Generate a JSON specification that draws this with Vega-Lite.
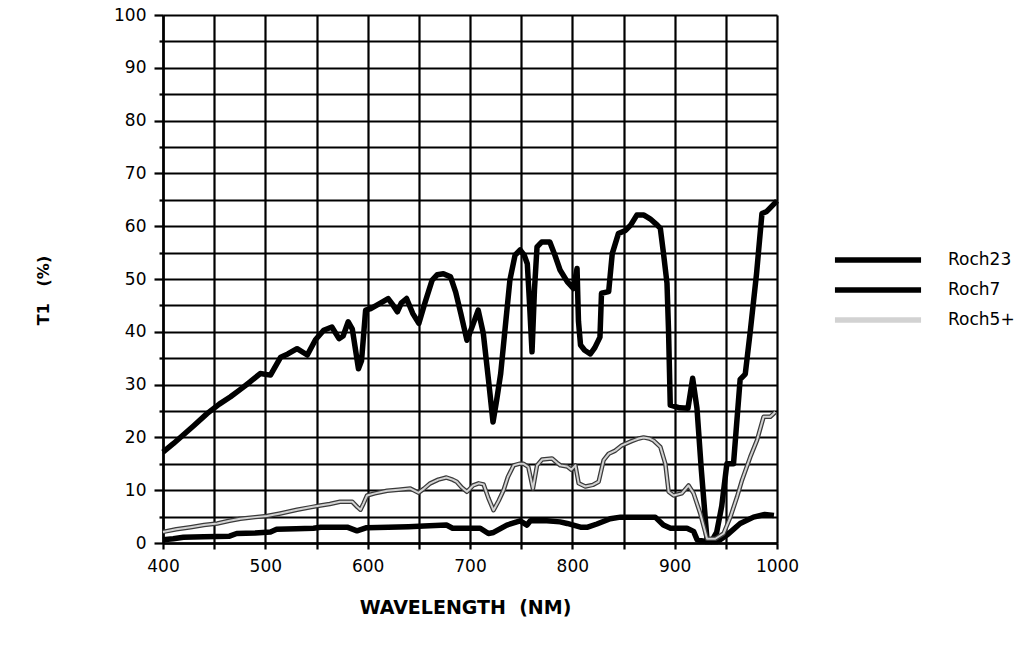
{
  "$schema": "https://vega.github.io/schema/vega-lite/v6.json",
  "width": 614,
  "height": 528,
  "autosize": {"type": "none"},
  "padding": {"left": 163, "top": 15, "right": 250, "bottom": 109},
  "background": "white",
  "config": {"view": {"stroke": null}, "font": "DejaVu Sans"},
  "datasets": {
    "curves": [
      {"series": "Roch7", "wl": 400, "t": 17.2},
      {"series": "Roch7", "wl": 410, "t": 18.8},
      {"series": "Roch7", "wl": 420, "t": 20.5},
      {"series": "Roch7", "wl": 430, "t": 22.2},
      {"series": "Roch7", "wl": 443, "t": 24.5},
      {"series": "Roch7", "wl": 455, "t": 26.3},
      {"series": "Roch7", "wl": 466, "t": 27.7},
      {"series": "Roch7", "wl": 475, "t": 29.0},
      {"series": "Roch7", "wl": 485, "t": 30.5},
      {"series": "Roch7", "wl": 495, "t": 32.1},
      {"series": "Roch7", "wl": 505, "t": 31.8},
      {"series": "Roch7", "wl": 515, "t": 35.2},
      {"series": "Roch7", "wl": 522, "t": 35.8},
      {"series": "Roch7", "wl": 531, "t": 36.8},
      {"series": "Roch7", "wl": 541, "t": 35.6},
      {"series": "Roch7", "wl": 549, "t": 38.5},
      {"series": "Roch7", "wl": 557, "t": 40.3},
      {"series": "Roch7", "wl": 565, "t": 40.9},
      {"series": "Roch7", "wl": 572, "t": 38.7},
      {"series": "Roch7", "wl": 576, "t": 39.2},
      {"series": "Roch7", "wl": 581, "t": 41.9},
      {"series": "Roch7", "wl": 585, "t": 40.5},
      {"series": "Roch7", "wl": 591, "t": 33.0},
      {"series": "Roch7", "wl": 594, "t": 34.5},
      {"series": "Roch7", "wl": 598, "t": 44.1},
      {"series": "Roch7", "wl": 603, "t": 44.4},
      {"series": "Roch7", "wl": 612, "t": 45.4},
      {"series": "Roch7", "wl": 620, "t": 46.3},
      {"series": "Roch7", "wl": 625, "t": 45.0},
      {"series": "Roch7", "wl": 629, "t": 43.8},
      {"series": "Roch7", "wl": 633, "t": 45.5},
      {"series": "Roch7", "wl": 638, "t": 46.3},
      {"series": "Roch7", "wl": 644, "t": 43.5},
      {"series": "Roch7", "wl": 650, "t": 41.6},
      {"series": "Roch7", "wl": 656, "t": 45.5},
      {"series": "Roch7", "wl": 663, "t": 49.8},
      {"series": "Roch7", "wl": 668, "t": 50.8},
      {"series": "Roch7", "wl": 674, "t": 51.0},
      {"series": "Roch7", "wl": 681, "t": 50.4},
      {"series": "Roch7", "wl": 686, "t": 47.5},
      {"series": "Roch7", "wl": 691, "t": 43.5},
      {"series": "Roch7", "wl": 697, "t": 38.4},
      {"series": "Roch7", "wl": 702, "t": 40.9},
      {"series": "Roch7", "wl": 708, "t": 44.1},
      {"series": "Roch7", "wl": 713, "t": 39.7},
      {"series": "Roch7", "wl": 718, "t": 31.0},
      {"series": "Roch7", "wl": 722.5, "t": 22.9},
      {"series": "Roch7", "wl": 726, "t": 27.0},
      {"series": "Roch7", "wl": 730, "t": 32.1},
      {"series": "Roch7", "wl": 735, "t": 42.0},
      {"series": "Roch7", "wl": 739, "t": 49.8},
      {"series": "Roch7", "wl": 744, "t": 54.5},
      {"series": "Roch7", "wl": 749, "t": 55.5},
      {"series": "Roch7", "wl": 753, "t": 54.5},
      {"series": "Roch7", "wl": 756, "t": 52.9},
      {"series": "Roch7", "wl": 758, "t": 46.0},
      {"series": "Roch7", "wl": 760.6, "t": 36.2},
      {"series": "Roch7", "wl": 763, "t": 48.0},
      {"series": "Roch7", "wl": 765.5, "t": 56.1},
      {"series": "Roch7", "wl": 770, "t": 57.0},
      {"series": "Roch7", "wl": 778, "t": 57.0},
      {"series": "Roch7", "wl": 783, "t": 54.5},
      {"series": "Roch7", "wl": 788, "t": 51.7},
      {"series": "Roch7", "wl": 795, "t": 49.5},
      {"series": "Roch7", "wl": 801, "t": 48.2},
      {"series": "Roch7", "wl": 804.6, "t": 52.0},
      {"series": "Roch7", "wl": 806, "t": 42.0},
      {"series": "Roch7", "wl": 808, "t": 37.5},
      {"series": "Roch7", "wl": 812, "t": 36.5},
      {"series": "Roch7", "wl": 817.6, "t": 35.8},
      {"series": "Roch7", "wl": 822, "t": 37.0},
      {"series": "Roch7", "wl": 827, "t": 39.0},
      {"series": "Roch7", "wl": 828.5, "t": 47.3},
      {"series": "Roch7", "wl": 835.5, "t": 47.6},
      {"series": "Roch7", "wl": 839, "t": 54.8},
      {"series": "Roch7", "wl": 845, "t": 58.6},
      {"series": "Roch7", "wl": 852, "t": 59.2},
      {"series": "Roch7", "wl": 857, "t": 60.2},
      {"series": "Roch7", "wl": 863, "t": 62.1},
      {"series": "Roch7", "wl": 870, "t": 62.1},
      {"series": "Roch7", "wl": 876, "t": 61.4},
      {"series": "Roch7", "wl": 883, "t": 60.2},
      {"series": "Roch7", "wl": 886, "t": 59.6},
      {"series": "Roch7", "wl": 889, "t": 55.0},
      {"series": "Roch7", "wl": 892.5, "t": 49.2},
      {"series": "Roch7", "wl": 894, "t": 40.3},
      {"series": "Roch7", "wl": 895.7, "t": 26.1},
      {"series": "Roch7", "wl": 905, "t": 25.6},
      {"series": "Roch7", "wl": 913, "t": 25.5},
      {"series": "Roch7", "wl": 917.6, "t": 31.2},
      {"series": "Roch7", "wl": 921.8, "t": 25.5},
      {"series": "Roch7", "wl": 926, "t": 14.0},
      {"series": "Roch7", "wl": 931.6, "t": 0.6},
      {"series": "Roch7", "wl": 936, "t": 0.3},
      {"series": "Roch7", "wl": 941, "t": 2.0},
      {"series": "Roch7", "wl": 946, "t": 7.0},
      {"series": "Roch7", "wl": 951, "t": 15.0},
      {"series": "Roch7", "wl": 957.5, "t": 15.0},
      {"series": "Roch7", "wl": 964, "t": 31.0},
      {"series": "Roch7", "wl": 969, "t": 32.0},
      {"series": "Roch7", "wl": 974, "t": 40.3},
      {"series": "Roch7", "wl": 980, "t": 51.0},
      {"series": "Roch7", "wl": 985.3, "t": 62.4},
      {"series": "Roch7", "wl": 990, "t": 62.8},
      {"series": "Roch7", "wl": 1000, "t": 64.8},

      {"series": "Roch5+", "wl": 400, "t": 2.1},
      {"series": "Roch5+", "wl": 413, "t": 2.6},
      {"series": "Roch5+", "wl": 427, "t": 3.0},
      {"series": "Roch5+", "wl": 440, "t": 3.4},
      {"series": "Roch5+", "wl": 453, "t": 3.7},
      {"series": "Roch5+", "wl": 465, "t": 4.2},
      {"series": "Roch5+", "wl": 475.5, "t": 4.6},
      {"series": "Roch5+", "wl": 490, "t": 4.9},
      {"series": "Roch5+", "wl": 501.6, "t": 5.1},
      {"series": "Roch5+", "wl": 514.6, "t": 5.6},
      {"series": "Roch5+", "wl": 531, "t": 6.3},
      {"series": "Roch5+", "wl": 545, "t": 6.8},
      {"series": "Roch5+", "wl": 553.7, "t": 7.1},
      {"series": "Roch5+", "wl": 563, "t": 7.4},
      {"series": "Roch5+", "wl": 573, "t": 7.8},
      {"series": "Roch5+", "wl": 585, "t": 7.8},
      {"series": "Roch5+", "wl": 590, "t": 6.8},
      {"series": "Roch5+", "wl": 593, "t": 6.3},
      {"series": "Roch5+", "wl": 596, "t": 7.5},
      {"series": "Roch5+", "wl": 599.4, "t": 9.0},
      {"series": "Roch5+", "wl": 607, "t": 9.4},
      {"series": "Roch5+", "wl": 619, "t": 9.9},
      {"series": "Roch5+", "wl": 630, "t": 10.1},
      {"series": "Roch5+", "wl": 641.7, "t": 10.3},
      {"series": "Roch5+", "wl": 649.8, "t": 9.5},
      {"series": "Roch5+", "wl": 655, "t": 10.3},
      {"series": "Roch5+", "wl": 661.2, "t": 11.3},
      {"series": "Roch5+", "wl": 669, "t": 12.0},
      {"series": "Roch5+", "wl": 677, "t": 12.4},
      {"series": "Roch5+", "wl": 683, "t": 12.0},
      {"series": "Roch5+", "wl": 687, "t": 11.6},
      {"series": "Roch5+", "wl": 692, "t": 10.5},
      {"series": "Roch5+", "wl": 697, "t": 9.7},
      {"series": "Roch5+", "wl": 703, "t": 10.9},
      {"series": "Roch5+", "wl": 708.4, "t": 11.3},
      {"series": "Roch5+", "wl": 713.3, "t": 11.1},
      {"series": "Roch5+", "wl": 718, "t": 8.5},
      {"series": "Roch5+", "wl": 723, "t": 6.2},
      {"series": "Roch5+", "wl": 728, "t": 8.0},
      {"series": "Roch5+", "wl": 732.8, "t": 10.0},
      {"series": "Roch5+", "wl": 737, "t": 12.5},
      {"series": "Roch5+", "wl": 742.6, "t": 14.7},
      {"series": "Roch5+", "wl": 748, "t": 15.0},
      {"series": "Roch5+", "wl": 752.4, "t": 15.0},
      {"series": "Roch5+", "wl": 757, "t": 14.4},
      {"series": "Roch5+", "wl": 761.5, "t": 10.3},
      {"series": "Roch5+", "wl": 765.5, "t": 14.7},
      {"series": "Roch5+", "wl": 770.4, "t": 15.8},
      {"series": "Roch5+", "wl": 780.2, "t": 16.0},
      {"series": "Roch5+", "wl": 785, "t": 15.2},
      {"series": "Roch5+", "wl": 788.3, "t": 14.7},
      {"series": "Roch5+", "wl": 795, "t": 14.5},
      {"series": "Roch5+", "wl": 799, "t": 13.9},
      {"series": "Roch5+", "wl": 803, "t": 14.7},
      {"series": "Roch5+", "wl": 806.2, "t": 11.3},
      {"series": "Roch5+", "wl": 812.7, "t": 10.7},
      {"series": "Roch5+", "wl": 820, "t": 11.0},
      {"series": "Roch5+", "wl": 825.7, "t": 11.6},
      {"series": "Roch5+", "wl": 830.6, "t": 15.7},
      {"series": "Roch5+", "wl": 835.5, "t": 16.9},
      {"series": "Roch5+", "wl": 842, "t": 17.5},
      {"series": "Roch5+", "wl": 848.5, "t": 18.5},
      {"series": "Roch5+", "wl": 858, "t": 19.3},
      {"series": "Roch5+", "wl": 865, "t": 19.8},
      {"series": "Roch5+", "wl": 869.6, "t": 20.0},
      {"series": "Roch5+", "wl": 875, "t": 19.8},
      {"series": "Roch5+", "wl": 879.4, "t": 19.4},
      {"series": "Roch5+", "wl": 886, "t": 18.2},
      {"series": "Roch5+", "wl": 890.9, "t": 15.0},
      {"series": "Roch5+", "wl": 894.1, "t": 9.7},
      {"series": "Roch5+", "wl": 899, "t": 9.0},
      {"series": "Roch5+", "wl": 907, "t": 9.4},
      {"series": "Roch5+", "wl": 913.6, "t": 10.9},
      {"series": "Roch5+", "wl": 918.5, "t": 9.4},
      {"series": "Roch5+", "wl": 925, "t": 5.6},
      {"series": "Roch5+", "wl": 931.6, "t": 0.8},
      {"series": "Roch5+", "wl": 939.7, "t": 0.8},
      {"series": "Roch5+", "wl": 947.8, "t": 1.8},
      {"series": "Roch5+", "wl": 954.4, "t": 4.9},
      {"series": "Roch5+", "wl": 960.9, "t": 8.7},
      {"series": "Roch5+", "wl": 965.8, "t": 11.9},
      {"series": "Roch5+", "wl": 973.9, "t": 16.3},
      {"series": "Roch5+", "wl": 980.5, "t": 19.5},
      {"series": "Roch5+", "wl": 986.9, "t": 23.9},
      {"series": "Roch5+", "wl": 993.4, "t": 23.9},
      {"series": "Roch5+", "wl": 998.4, "t": 24.8},

      {"series": "Roch23", "wl": 400, "t": 0.6},
      {"series": "Roch23", "wl": 410, "t": 0.8},
      {"series": "Roch23", "wl": 420, "t": 1.1},
      {"series": "Roch23", "wl": 440, "t": 1.2},
      {"series": "Roch23", "wl": 465, "t": 1.3},
      {"series": "Roch23", "wl": 472, "t": 1.8},
      {"series": "Roch23", "wl": 490, "t": 1.9},
      {"series": "Roch23", "wl": 505, "t": 2.1},
      {"series": "Roch23", "wl": 511, "t": 2.6},
      {"series": "Roch23", "wl": 530, "t": 2.7},
      {"series": "Roch23", "wl": 547, "t": 2.8},
      {"series": "Roch23", "wl": 554, "t": 3.0},
      {"series": "Roch23", "wl": 580, "t": 3.0},
      {"series": "Roch23", "wl": 589.6, "t": 2.3},
      {"series": "Roch23", "wl": 599, "t": 2.9},
      {"series": "Roch23", "wl": 620, "t": 3.0},
      {"series": "Roch23", "wl": 640, "t": 3.1},
      {"series": "Roch23", "wl": 655, "t": 3.2},
      {"series": "Roch23", "wl": 677, "t": 3.4},
      {"series": "Roch23", "wl": 683, "t": 2.8},
      {"series": "Roch23", "wl": 710, "t": 2.8},
      {"series": "Roch23", "wl": 718, "t": 1.8},
      {"series": "Roch23", "wl": 723, "t": 2.0},
      {"series": "Roch23", "wl": 736, "t": 3.4},
      {"series": "Roch23", "wl": 749, "t": 4.2},
      {"series": "Roch23", "wl": 755.7, "t": 3.4},
      {"series": "Roch23", "wl": 759, "t": 4.2},
      {"series": "Roch23", "wl": 775, "t": 4.2},
      {"series": "Roch23", "wl": 788, "t": 4.0},
      {"series": "Roch23", "wl": 795, "t": 3.7},
      {"series": "Roch23", "wl": 808, "t": 3.0},
      {"series": "Roch23", "wl": 815, "t": 3.0},
      {"series": "Roch23", "wl": 824, "t": 3.6},
      {"series": "Roch23", "wl": 837, "t": 4.6},
      {"series": "Roch23", "wl": 847, "t": 4.9},
      {"series": "Roch23", "wl": 881, "t": 4.9},
      {"series": "Roch23", "wl": 889, "t": 3.4},
      {"series": "Roch23", "wl": 896, "t": 2.8},
      {"series": "Roch23", "wl": 912, "t": 2.8},
      {"series": "Roch23", "wl": 918.5, "t": 2.2},
      {"series": "Roch23", "wl": 922, "t": 0.6},
      {"series": "Roch23", "wl": 930, "t": 0.3},
      {"series": "Roch23", "wl": 942, "t": 0.3},
      {"series": "Roch23", "wl": 951, "t": 1.5},
      {"series": "Roch23", "wl": 964, "t": 3.7},
      {"series": "Roch23", "wl": 977, "t": 4.9},
      {"series": "Roch23", "wl": 988, "t": 5.4},
      {"series": "Roch23", "wl": 997, "t": 5.2}
    ]
  },
  "data": {"name": "curves"},
  "encoding": {
    "x": {
      "field": "wl",
      "type": "quantitative",
      "scale": {"domain": [400, 1000], "nice": false, "zero": false},
      "axis": {
        "values": [400, 450, 500, 550, 600, 650, 700, 750, 800, 850, 900, 950, 1000],
        "format": "d",
        "labelExpr": "datum.value % 100 == 0 ? datum.label : ''",
        "labelOverlap": false,
        "labelFlush": false,
        "labelBound": false,
        "grid": true,
        "gridColor": "black",
        "gridWidth": 2.2,
        "gridOpacity": 1,
        "domainColor": "black",
        "domainWidth": 2.5,
        "tickColor": "black",
        "tickWidth": 2.2,
        "tickSize": 6,
        "labelFont": "DejaVu Sans",
        "labelFontSize": 17,
        "labelColor": "black",
        "labelPadding": 9,
        "title": "WAVELENGTH\u00a0\u00a0(NM)",
        "titleFont": "DejaVu Sans",
        "titleFontWeight": "bold",
        "titleFontSize": 19,
        "titleColor": "black",
        "titleX": 302,
        "titleY": 64,
        "titleAlign": "center",
        "titleBaseline": "middle"
      }
    },
    "y": {
      "field": "t",
      "type": "quantitative",
      "scale": {"domain": [0, 100], "nice": false},
      "axis": {
        "values": [0, 5, 10, 15, 20, 25, 30, 35, 40, 45, 50, 55, 60, 65, 70, 75, 80, 85, 90, 95, 100],
        "labelExpr": "datum.value % 10 == 0 ? datum.label : ''",
        "labelOverlap": false,
        "labelFlush": false,
        "labelBound": false,
        "grid": true,
        "gridColor": "black",
        "gridWidth": 2.2,
        "gridOpacity": 1,
        "domainColor": "black",
        "domainWidth": 2.5,
        "tickColor": "black",
        "tickWidth": 2.2,
        "tickSize": {"condition": {"test": "datum.value % 10 == 0", "value": 9}, "value": 4},
        "labelFont": "DejaVu Sans",
        "labelFontSize": 17,
        "labelColor": "black",
        "labelPadding": 8,
        "title": "T1\u00a0\u00a0\u00a0(%)",
        "titleFont": "DejaVu Sans",
        "titleFontWeight": "bold",
        "titleFontSize": 16,
        "titleColor": "black",
        "titleAngle": -90,
        "titleX": -120,
        "titleY": 275,
        "titleAlign": "center",
        "titleBaseline": "middle"
      }
    }
  },
  "layer": [
    {
      "transform": [{"filter": "datum.series != 'Roch5+'"}],
      "mark": {"type": "line", "strokeWidth": 5.5, "strokeJoin": "round"},
      "encoding": {
        "color": {
          "field": "series",
          "type": "nominal",
          "scale": {"domain": ["Roch23", "Roch7", "Roch5+"], "range": ["black", "black", "#d2d2d2"]},
          "legend": {
            "title": null,
            "orient": "none",
            "legendX": 697,
            "legendY": 227,
            "padding": 0,
            "symbolType": "M-2.87,0L2.87,0",
            "symbolSize": 900,
            "symbolStrokeWidth": 5.5,
            "labelFont": "DejaVu Sans",
            "labelFontSize": 17,
            "labelColor": "black",
            "labelOffset": 52,
            "rowPadding": 1
          }
        }
      }
    },
    {
      "transform": [{"filter": "datum.series == 'Roch5+'"}],
      "mark": {"type": "line", "strokeWidth": 4.5, "color": "#3a3a3a", "strokeJoin": "round"},
      "encoding": {}
    },
    {
      "transform": [{"filter": "datum.series == 'Roch5+'"}],
      "mark": {"type": "line", "strokeWidth": 2, "strokeJoin": "round"},
      "encoding": {
        "color": {"field": "series", "type": "nominal"}
      }
    }
  ]
}
